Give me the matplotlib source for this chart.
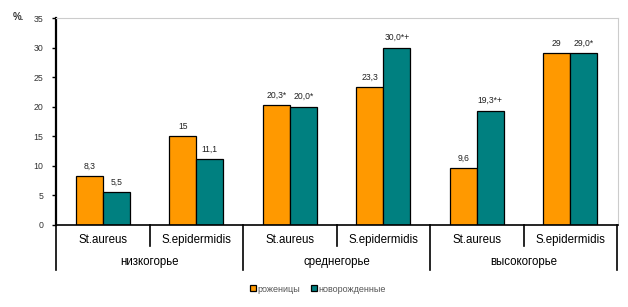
import numpy as np
import matplotlib.pyplot as plt
from matplotlib.transforms import blended_transform_factory

plt.rcParams['font.family'] = ['Liberation Sans', 'DejaVu Sans']

categories = ['St.aureus', 'S.epidermidis', 'St.aureus', 'S.epidermidis', 'St.aureus', 'S.epidermidis']
groups = ['низкогорье', 'среднегорье', 'высокогорье']
mothers = [8.3, 15, 20.3, 23.3, 9.6, 29]
newborns = [5.5, 11.1, 20.0, 30.0, 19.3, 29.0]
mothers_lbl = ['8,3', '15', '20,3*', '23,3', '9,6', '29']
newborns_lbl = ['5,5', '11,1', '20,0*', '30,0*+', '19,3*+', '29,0*']

fig = plt.figure(figsize=(6.28, 3.07), dpi=100)
ax = fig.add_axes([56/628, 1-225/307, 562/628, 207/307])

x = np.arange(len(categories))
w = 0.29
b1 = ax.bar(x - w/2, mothers, w, color='#FF9900', edgecolor='black', lw=0.9, label='роженицы')
b2 = ax.bar(x + w/2, newborns, w, color='#008080', edgecolor='black', lw=0.9, label='новорожденные')

for bars, lbls in [(b1, mothers_lbl), (b2, newborns_lbl)]:
    for r, t in zip(bars, lbls):
        ax.annotate(t, (r.get_x() + r.get_width()/2, r.get_height()), xytext=(0, 4),
                    textcoords='offset points', ha='center', va='bottom', fontsize=6.2, color='#222222')

ax.set_xlim(-0.5, len(categories) - 0.5 + 0.01)
ax.set_ylim(0, 35)
ax.set_yticks(range(0, 36, 5))
ax.tick_params(axis='y', labelsize=6.3, labelcolor='#333333', length=3, width=1, direction='out', pad=6)
ax.set_xticks([])
for s in ['top', 'right']:
    ax.spines[s].set_color('#cccccc')
    ax.spines[s].set_linewidth(0.8)
ax.spines['left'].set_linewidth(1.6)
ax.spines['bottom'].set_linewidth(1.2)

# two-level category axis
tr = blended_transform_factory(ax.transData, ax.transAxes)
h = 207.0
for i in range(len(categories) + 1):
    xp = i - 0.5
    low = -45/h if i % 2 == 0 else -21/h
    ax.plot([xp, xp], [0, low], transform=tr, color='black', lw=1.2, clip_on=False)
for i, c in enumerate(categories):
    ax.text(i, -15/h, c, transform=tr, ha='center', va='center', fontsize=8.3, color='black')
for j, g in enumerate(groups):
    ax.text(2*j + 0.5, -37/h, g, transform=tr, ha='center', va='center', fontsize=8.3, color='black')

fig.text(13/628, 1-17/307, '%.', fontsize=7, fontweight='bold', color='#333333', va='center')

fig.legend(handles=[b1, b2], loc='center', bbox_to_anchor=(318/628, 1-289/307), ncol=2,
           frameon=False, fontsize=6.5, handlelength=0.6, handleheight=0.6, handletextpad=0.2,
           columnspacing=1.2, labelcolor='#555555')

fig.savefig('out.png', dpi=100)
